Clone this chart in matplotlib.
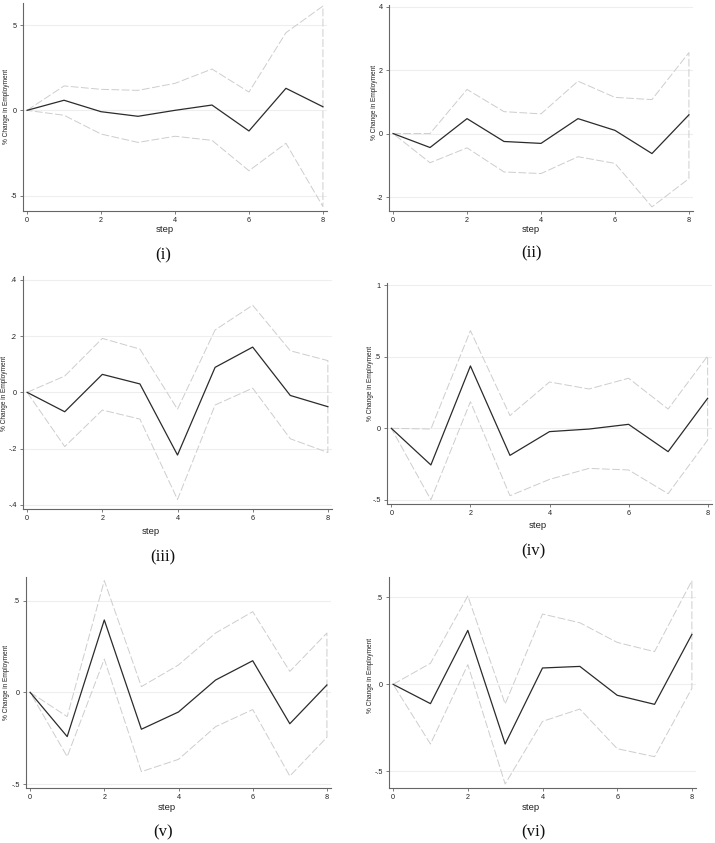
import matplotlib
matplotlib.use("Agg")
import matplotlib.pyplot as plt
import numpy as np

W, H = 715, 843
steps = [0, 1, 2, 3, 4, 5, 6, 7, 8]

# panel (i)
irf_1 = [0, 0.59, -0.08, -0.35, 0.0, 0.31, -1.21, 1.29, 0.21]
upper_1 = [0, 1.43, 1.23, 1.17, 1.58, 2.42, 1.07, 4.55, 6.11]
lower_1 = [0, -0.29, -1.39, -1.88, -1.52, -1.76, -3.54, -1.93, -5.64]
yticks_1 = [-5, 0, 5]
ylabels_1 = ["-5", "0", "5"]

# panel (ii)
irf_2 = [0, -0.44, 0.47, -0.25, -0.31, 0.47, 0.10, -0.63, 0.59]
upper_2 = [0, 0.0, 1.39, 0.69, 0.62, 1.65, 1.14, 1.07, 2.55]
lower_2 = [0, -0.92, -0.45, -1.21, -1.26, -0.73, -0.94, -2.31, -1.42]
yticks_2 = [-2, 0, 2, 4]
ylabels_2 = ["-2", "0", "2", "4"]

# panel (iii)
irf_3 = [0, -0.069, 0.064, 0.030, -0.223, 0.089, 0.161, -0.011, -0.051]
upper_3 = [0, 0.058, 0.192, 0.154, -0.060, 0.222, 0.310, 0.148, 0.113]
lower_3 = [0, -0.193, -0.063, -0.095, -0.381, -0.045, 0.015, -0.165, -0.214]
yticks_3 = [-0.4, -0.2, 0, 0.2, 0.4]
ylabels_3 = ["-.4", "-.2", "0", ".2", ".4"]

# panel (iv)
irf_4 = [0, -0.256, 0.436, -0.189, -0.023, -0.005, 0.028, -0.163, 0.21]
upper_4 = [0, -0.005, 0.683, 0.089, 0.324, 0.275, 0.35, 0.135, 0.506]
lower_4 = [0, -0.50, 0.186, -0.471, -0.357, -0.28, -0.291, -0.457, -0.082]
yticks_4 = [-0.5, 0, 0.5, 1]
ylabels_4 = ["-.5", "0", ".5", "1"]

# panel (v)
irf_5 = [0, -0.241, 0.394, -0.201, -0.107, 0.067, 0.172, -0.171, 0.040]
upper_5 = [0, -0.132, 0.608, 0.031, 0.149, 0.323, 0.439, 0.114, 0.323]
lower_5 = [0, -0.350, 0.181, -0.432, -0.365, -0.187, -0.094, -0.456, -0.245]
yticks_5 = [-0.5, 0, 0.5]
ylabels_5 = ["-.5", "0", ".5"]

# panel (vi)
irf_6 = [0, -0.111, 0.310, -0.343, 0.094, 0.103, -0.063, -0.115, 0.287]
upper_6 = [0, 0.121, 0.508, -0.113, 0.404, 0.354, 0.241, 0.188, 0.596]
lower_6 = [0, -0.343, 0.113, -0.573, -0.213, -0.142, -0.370, -0.416, -0.023]
yticks_6 = [-0.5, 0, 0.5]
ylabels_6 = ["-.5", "0", ".5"]

captions = ["(i)", "(ii)", "(iii)", "(iv)", "(v)", "(vi)"]
xticks = [0, 2, 4, 6, 8]

panels = [
    (irf_1, upper_1, lower_1, yticks_1, ylabels_1),
    (irf_2, upper_2, lower_2, yticks_2, ylabels_2),
    (irf_3, upper_3, lower_3, yticks_3, ylabels_3),
    (irf_4, upper_4, lower_4, yticks_4, ylabels_4),
    (irf_5, upper_5, lower_5, yticks_5, ylabels_5),
    (irf_6, upper_6, lower_6, yticks_6, ylabels_6),
]

# layout in pixels: left, top, right, bottom of axes
boxes = [
    (23, 3, 327, 211),
    (389, 5, 693, 211),
    (23, 276, 332, 509),
    (387, 283, 712, 504),
    (26, 577, 331, 788),
    (389, 577, 696, 788),
]
ylims = [(-5.90, 6.29), (-2.44, 4.05), (-0.415, 0.414), (-0.529, 1.016),
         (-0.521, 0.628), (-0.596, 0.617)]
step_pos = [(165, 230), (531, 229), (151, 532), (538, 526), (167, 807), (531, 808)]
cap_pos = [(163, 255), (532, 253), (163, 557), (533, 551), (163, 832), (533, 832)]
ylab_pos = [(7, 106), (374, 102), (5, 393), (370, 383), (7, 682), (370, 675)]

fig = plt.figure(figsize=(W / 100, H / 100), dpi=100)
fig.patch.set_facecolor("white")

sans = "Liberation Sans"
serif = "Liberation Serif"

for i, (irf, up, lo, yt, yl) in enumerate(panels):
    l, t, r, b = boxes[i]
    ax = fig.add_axes([l / W, 1 - b / H, (r - l) / W, (b - t) / H])
    ax.set_xlim(-0.11, 8.11)
    ax.set_ylim(*ylims[i])
    for y in yt:
        ax.axhline(y, color="#eeeeee", lw=0.8, zorder=0)
    # CI band outline (closed polygon, dashed)
    xs = list(steps) + list(steps[::-1]) + [steps[0]]
    ys = list(up) + list(lo[::-1]) + [up[0]]
    ax.plot(xs, ys, color="#cdcdcd", lw=0.7, ls=(0, (8, 2.5)), zorder=2)
    ax.plot(steps, irf, color="#2b2b2b", lw=0.9, zorder=3)
    for s in ["top", "right"]:
        ax.spines[s].set_visible(False)
    for s in ["left", "bottom"]:
        ax.spines[s].set_color("#666666")
        ax.spines[s].set_linewidth(0.8)
    ax.set_xticks(xticks)
    ax.set_xticklabels([str(v) for v in xticks])
    ax.set_yticks(yt)
    ax.set_yticklabels(yl)
    ax.tick_params(axis="both", length=2.5, width=0.6, color="#666666",
                   labelsize=5.2, pad=2, labelcolor="#222222")
    for lab in ax.get_xticklabels() + ax.get_yticklabels():
        lab.set_fontfamily(sans)
    ax.set_facecolor("white")
    ax.patch.set_alpha(0)

    sx, sy = step_pos[i]
    fig.text(sx / W, 1 - sy / H, "step", ha="center", va="center",
             fontsize=6.8, family=sans, color="#222222")
    cx, cy = cap_pos[i]
    fig.text(cx / W, 1 - cy / H, captions[i], ha="center", va="center",
             fontsize=12, family=serif, color="#111111")
    lx, ly = ylab_pos[i]
    fig.text(lx / W, 1 - ly / H, "% Change in Employment", ha="center",
             va="center", rotation=90, fontsize=4.7, family=sans,
             color="#222222")

fig.savefig("out.png", dpi=100, facecolor="white")
